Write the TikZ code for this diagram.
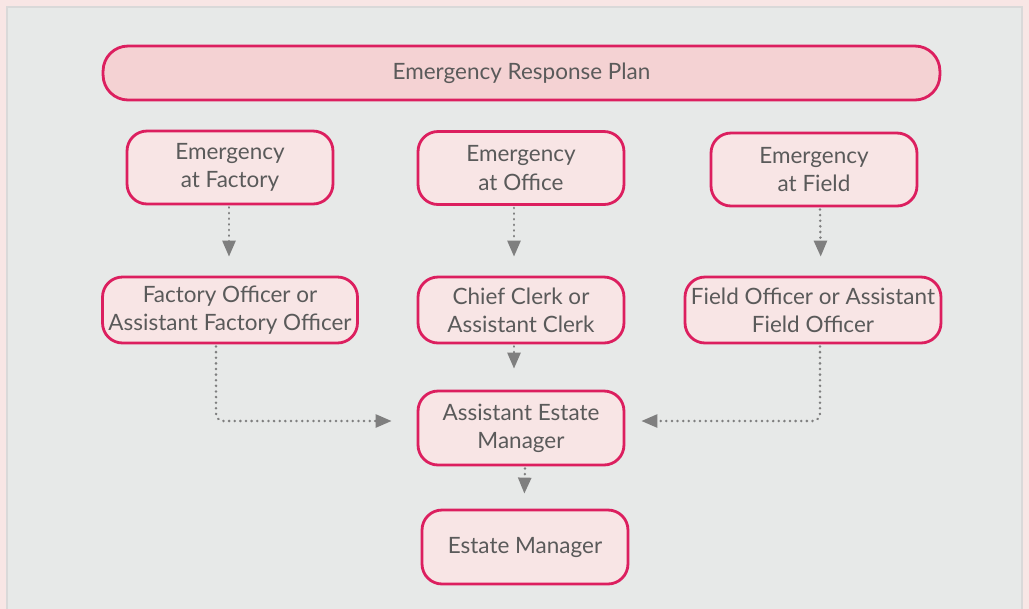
\documentclass[tikz,border=0pt]{standalone}
\usepackage{fontspec}
\setmainfont{Lato}
\usepackage{tikz}
\usetikzlibrary{arrows.meta,positioning,calc}
\definecolor{rim}{HTML}{DC1F5F}
\definecolor{boxfill}{HTML}{F8E5E5}
\definecolor{barfill}{HTML}{F4D2D3}
\definecolor{panel}{HTML}{E7E9E8}
\definecolor{outer}{HTML}{F8E6E5}
\definecolor{ink}{HTML}{5A5A5A}
\definecolor{link}{HTML}{7F7F7F}

\begin{document}
\begin{tikzpicture}[x=0.02cm, y=-0.02cm,
    role/.style={rectangle, draw=rim, fill=boxfill, line width=1.6pt, rounded corners=0.4cm,
      minimum width=4.12cm, minimum height=1.46cm, inner sep=0pt, align=center,
      text=ink, font=\fontsize{12.8}{16}\selectfont},
    plan/.style={role, fill=barfill, minimum width=16.74cm, minimum height=1.08cm, rounded corners=0.5cm},
    flow/.style={-{Triangle[length=0.32cm, width=0.26cm]}, draw=link, line width=1.5pt,
      dash pattern=on 0.1pt off 3.1pt, line cap=round, rounded corners=0.15cm}
  ]
    % frame
    \useasboundingbox (0,0) rectangle (1029,609);
    \fill[outer] (0,0) rectangle (1029,609);
    \filldraw[fill=panel, draw=black!15, line width=1pt] (7,7) rectangle (1022,615);

    \node[plan] (erp) at (521.5,73) {Emergency Response Plan};

    \node[role] (efa) at (230,167.5) {Emergency\\at Factory};
    \node[role] (eof) at (521,168) {Emergency\\at Office};
    \node[role] (efi) at (814,169.5) {Emergency\\at Field};

    \node[role, minimum width=5.1cm, minimum height=1.32cm] (ffo) at (230,310) {Factory Officer or\\Assistant Factory Officer};
    \node[role, minimum height=1.32cm] (ccl) at (521,310) {Chief Clerk or\\Assistant Clerk};
    \node[role, minimum width=5.12cm, minimum height=1.32cm] (ffi) at (813,310) {Field Officer or Assistant\\Field Officer};

    \node[role, minimum height=1.48cm] (aem) at (521,428) {Assistant Estate\\Manager};
    \node[role, minimum height=1.48cm] (em) at (525,547) {Estate Manager};

    \draw[flow, shorten <=0.04cm, shorten >=0.38cm] ([xshift=-0.02cm]efa.south) -- ([xshift=-0.02cm]ffo.north);
    \draw[flow, shorten <=0.04cm, shorten >=0.38cm] ([xshift=-0.14cm]eof.south) -- ([xshift=-0.14cm]ccl.north);
    \draw[flow, shorten <=0.04cm, shorten >=0.38cm] ([xshift=0.12cm]efi.south) -- ([xshift=0.14cm]efi.south |- ffi.north);
    \draw[flow, shorten <=0.04cm, shorten >=0.42cm] ([xshift=-0.14cm]ccl.south) -- ([xshift=-0.14cm]aem.north);
    \draw[flow, shorten <=0.04cm, shorten >=0.3cm] (aem.south -| em.north) -- ([xshift=-0.02cm]em.north);
    \draw[flow, shorten <=0.04cm, shorten >=0.5cm] ([xshift=-0.28cm]ffo.south) |- ([yshift=0.14cm]aem.west);
    \draw[flow, shorten <=0.04cm, shorten >=0.32cm] ([xshift=0.14cm]ffi.south) |- ([yshift=0.14cm]aem.east);
  \end{tikzpicture}
\end{document}
